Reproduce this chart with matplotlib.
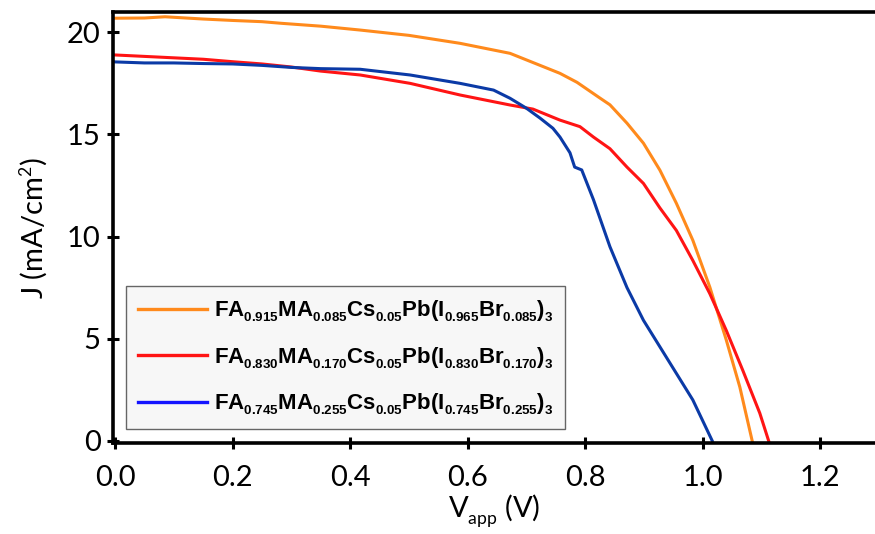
import matplotlib
matplotlib.use("Agg")
import matplotlib.pyplot as plt
import matplotlib._mathtext as mt
from matplotlib.lines import Line2D

# Curvas J-V (V en voltios, J en mA/cm2)
v_naranja = [0.00, 0.05, 0.085, 0.15, 0.20, 0.25, 0.283, 0.35, 0.417, 0.50, 0.587,
             0.672, 0.757, 0.786, 0.825, 0.842, 0.871, 0.899, 0.927, 0.955, 0.983,
             1.012, 1.040, 1.063, 1.084]
j_naranja = [20.69, 20.70, 20.76, 20.65, 20.58, 20.52, 20.44, 20.30, 20.11, 19.85, 19.46,
             18.97, 17.99, 17.55, 16.78, 16.45, 15.55, 14.57, 13.25, 11.63, 9.82,
             7.52, 4.93, 2.63, 0.0]

v_rojo = [0.00, 0.05, 0.10, 0.15, 0.20, 0.25, 0.30, 0.35, 0.417, 0.502, 0.587,
          0.672, 0.711, 0.757, 0.791, 0.814, 0.842, 0.871, 0.899, 0.927, 0.955,
          0.983, 1.012, 1.040, 1.068, 1.097, 1.112]
j_rojo = [18.89, 18.82, 18.75, 18.68, 18.56, 18.45, 18.30, 18.10, 17.91, 17.50, 16.93,
          16.44, 16.24, 15.70, 15.38, 14.87, 14.30, 13.40, 12.60, 11.40, 10.30,
          8.83, 7.20, 5.40, 3.45, 1.35, 0.0]

v_azul = [0.00, 0.05, 0.10, 0.15, 0.20, 0.25, 0.30, 0.35, 0.417, 0.502, 0.587,
          0.644, 0.672, 0.70, 0.723, 0.745, 0.757, 0.774, 0.782, 0.794, 0.814,
          0.842, 0.871, 0.899, 0.927, 0.955, 0.983, 1.016]
j_azul = [18.55, 18.50, 18.50, 18.47, 18.45, 18.38, 18.28, 18.22, 18.19, 17.91, 17.50,
          17.17, 16.77, 16.28, 15.80, 15.30, 14.87, 14.10, 13.40, 13.26, 11.80,
          9.50, 7.50, 5.90, 4.60, 3.30, 2.00, 0.0]

etiquetas = [
    r"$\mathbf{FA_{0.915}MA_{0.085}Cs_{0.05}Pb(I_{0.965}Br_{0.085})_3}$",
    r"$\mathbf{FA_{0.830}MA_{0.170}Cs_{0.05}Pb(I_{0.830}Br_{0.170})_3}$",
    r"$\mathbf{FA_{0.745}MA_{0.255}Cs_{0.05}Pb(I_{0.745}Br_{0.255})_3}$",
]

# subíndices más pequeños y más bajos, como en la figura original
mt.SHRINK_FACTOR = 0.6
mt.FontConstantsBase.sub1 = 0.45
mt.FontConstantsBase.sub2 = 0.55

plt.rcParams["font.family"] = ["Lato", "DejaVu Sans"]
plt.rcParams["mathtext.fontset"] = "custom"
plt.rcParams["mathtext.rm"] = "Lato"
plt.rcParams["mathtext.bf"] = "Liberation Sans:bold"

fig = plt.figure(figsize=(8.75, 5.34), dpi=100)
ax = fig.add_axes([0.1295, 0.1704, 1 - 0.1295, 0.8066])

ax.plot(v_naranja, j_naranja, color="#ff8a1c", lw=2.2)
ax.plot(v_rojo, j_rojo, color="#ff1414", lw=2.2)
ax.plot(v_azul, j_azul, color="#0b3aa6", lw=2.2)

ax.set_xlim(-0.003, 1.293)
ax.set_ylim(-0.11, 20.98)
ax.set_xticks([0.0, 0.2, 0.4, 0.6, 0.8, 1.0, 1.2])
ax.set_xticklabels(["0.0", "0.2", "0.4", "0.6", "0.8", "1.0", "1.2"])
ax.set_yticks([0, 5, 10, 15, 20])

for lado in ["left", "bottom", "top"]:
    ax.spines[lado].set_linewidth(2.6)
ax.spines["right"].set_visible(False)
ax.tick_params(axis="both", direction="inout", length=8, width=2.2, labelsize=21)
ax.tick_params(axis="x", pad=12)
ax.tick_params(axis="y", pad=5)

ax.set_xlabel(r"V$_{\mathrm{app}}$ (V)", fontsize=21, labelpad=1)
ax.set_ylabel(r"J (mA/cm$^{2}$)", fontsize=21, labelpad=12)

manejadores = [Line2D([0], [0], color=c, lw=2.4)
               for c in ["#ff8a1c", "#ff1414", "#1414ff"]]
leg = ax.legend(manejadores, etiquetas, loc="lower left",
                bbox_to_anchor=(0.0163, 0.0318), fontsize=16,
                handlelength=3.1, handletextpad=0.3, labelspacing=0.95,
                borderpad=0.55, borderaxespad=0, fancybox=False,
                framealpha=1, facecolor="#f7f7f7", edgecolor="#666666")
leg.get_frame().set_linewidth(1.0)

fig.savefig("out.png", dpi=100)
